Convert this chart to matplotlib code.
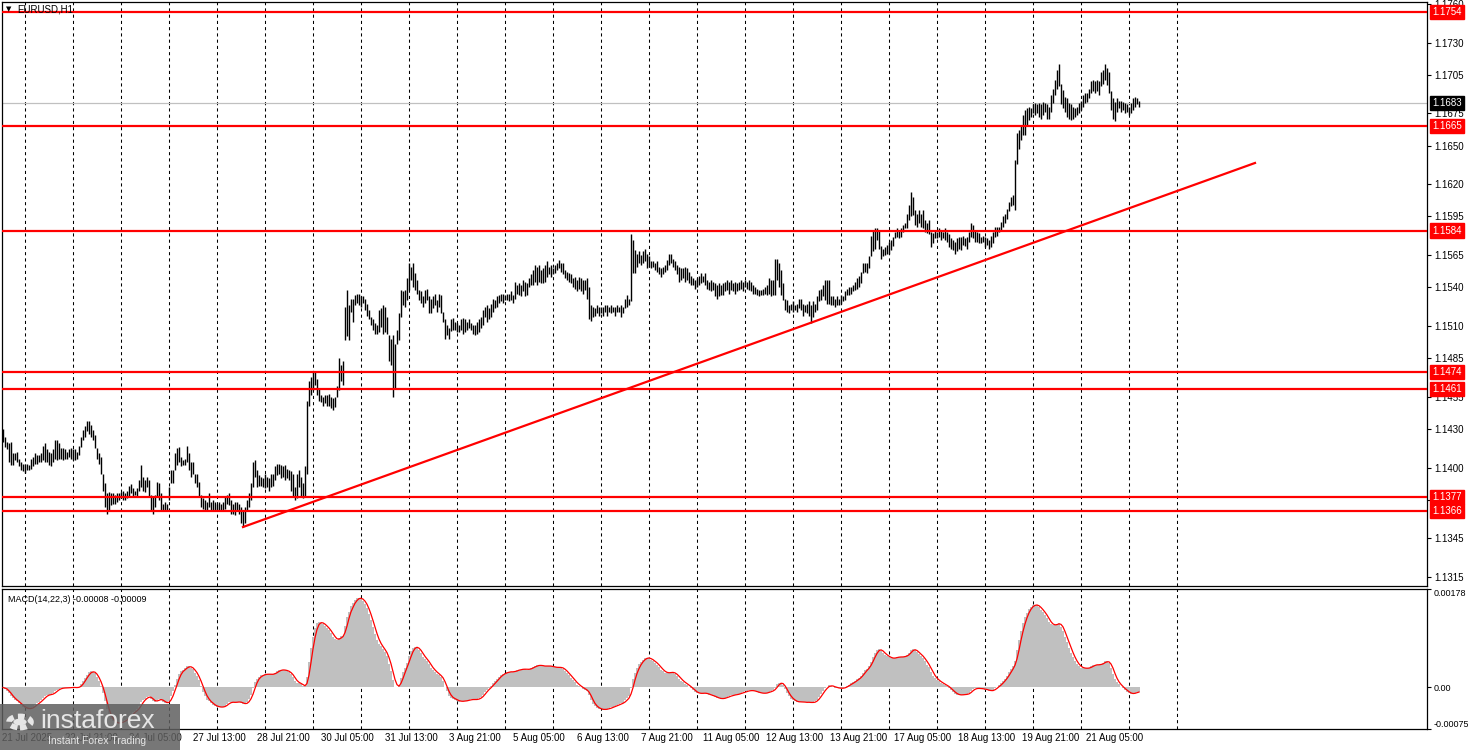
import matplotlib.pyplot as plt
import matplotlib.transforms as mtransforms
import matplotlib.patches as patches
import numpy as np
import pandas as pd

symbol_title = "EURUSD,H1"

# EURUSD H1 bars, highs / lows in pips (price * 10000), one value per hour
high_pips = [
    11430, 11424, 11420, 11419, 11420, 11411, 11411, 11412, 11407, 11404, 11403, 11403, 11403, 11402, 11407, 11408, 11411, 11410, 11410, 11411, 11417, 11419, 11414, 11412,
    11411, 11414, 11421, 11421, 11419, 11415, 11415, 11414, 11412, 11414, 11415, 11414, 11414, 11412, 11417, 11424, 11429, 11432, 11436, 11436, 11433, 11429, 11425, 11415,
    11411, 11408, 11395, 11388, 11380, 11381, 11380, 11380, 11379, 11380, 11380, 11381, 11382, 11380, 11382, 11386, 11387, 11384, 11382, 11384, 11390, 11402, 11393, 11390,
    11393, 11390, 11379, 11377, 11379, 11389, 11388, 11380, 11372, 11373, 11372, 11385, 11398, 11398, 11411, 11415, 11416, 11408, 11406, 11407, 11417, 11411, 11404, 11404,
    11395, 11395, 11389, 11379, 11376, 11375, 11373, 11380, 11373, 11375, 11373, 11372, 11373, 11372, 11373, 11377, 11379, 11380, 11375, 11372, 11373, 11373, 11372, 11369,
    11366, 11369, 11375, 11380, 11388, 11404, 11406, 11398, 11394, 11393, 11392, 11395, 11393, 11392, 11395, 11395, 11401, 11403, 11403, 11402, 11401, 11402, 11399, 11398,
    11397, 11395, 11385, 11395, 11398, 11393, 11388, 11401, 11452, 11467, 11470, 11474, 11474, 11469, 11461, 11456, 11455, 11456, 11456, 11457, 11455, 11454, 11455, 11463,
    11485, 11480, 11483, 11525, 11538, 11526, 11531, 11531, 11534, 11535, 11535, 11533, 11533, 11531, 11527, 11522, 11517, 11515, 11512, 11511, 11522, 11524, 11526, 11525,
    11517, 11503, 11500, 11503, 11496, 11507, 11520, 11538, 11537, 11538, 11547, 11559, 11556, 11559, 11551, 11546, 11538, 11537, 11533, 11538, 11539, 11533, 11531, 11533,
    11535, 11530, 11535, 11534, 11521, 11515, 11511, 11508, 11515, 11516, 11513, 11512, 11511, 11515, 11516, 11515, 11513, 11515, 11512, 11511, 11511, 11513, 11515, 11517,
    11522, 11525, 11526, 11524, 11527, 11531, 11530, 11533, 11534, 11535, 11535, 11534, 11535, 11535, 11537, 11534, 11544, 11542, 11543, 11542, 11546, 11544, 11543, 11547,
    11550, 11553, 11557, 11556, 11557, 11553, 11555, 11557, 11560, 11556, 11557, 11555, 11557, 11559, 11561, 11559, 11559, 11553, 11552, 11551, 11550, 11547, 11548, 11546,
    11548, 11547, 11546, 11546, 11547, 11540, 11526, 11525, 11524, 11526, 11525, 11525, 11525, 11526, 11526, 11525, 11526, 11525, 11525, 11526, 11525, 11526, 11525, 11531,
    11534, 11531, 11581, 11577, 11569, 11566, 11568, 11565, 11568, 11570, 11566, 11564, 11560, 11560, 11559, 11560, 11556, 11555, 11556, 11557, 11561, 11566, 11566, 11562,
    11560, 11557, 11556, 11555, 11555, 11556, 11555, 11552, 11549, 11547, 11546, 11547, 11549, 11551, 11549, 11551, 11546, 11544, 11546, 11544, 11543, 11542, 11543, 11542,
    11543, 11544, 11546, 11544, 11546, 11543, 11544, 11543, 11544, 11546, 11544, 11546, 11544, 11546, 11544, 11542, 11540, 11539, 11538, 11538, 11539, 11540, 11542, 11547,
    11546, 11546, 11562, 11562, 11559, 11553, 11543, 11531, 11530, 11526, 11527, 11529, 11526, 11527, 11531, 11531, 11527, 11526, 11527, 11529, 11526, 11529, 11527, 11533,
    11538, 11539, 11542, 11546, 11546, 11546, 11533, 11533, 11531, 11533, 11531, 11534, 11533, 11537, 11539, 11540, 11540, 11542, 11544, 11547, 11549, 11552, 11559, 11559,
    11559, 11564, 11580, 11584, 11586, 11586, 11584, 11572, 11570, 11571, 11573, 11575, 11577, 11579, 11583, 11586, 11584, 11586, 11588, 11590, 11597, 11604, 11614, 11610,
    11600, 11597, 11600, 11597, 11600, 11592, 11590, 11592, 11583, 11582, 11584, 11583, 11586, 11584, 11583, 11586, 11583, 11581, 11578, 11577, 11575, 11578, 11579, 11579,
    11580, 11578, 11579, 11583, 11590, 11588, 11584, 11583, 11582, 11579, 11580, 11579, 11578, 11577, 11580, 11583, 11587, 11587, 11587, 11591, 11595, 11597, 11601, 11606,
    11610, 11612, 11639, 11660, 11662, 11666, 11674, 11678, 11679, 11680, 11679, 11682, 11683, 11682, 11683, 11682, 11684, 11683, 11682, 11680, 11689, 11694, 11701, 11709,
    11713, 11698, 11693, 11688, 11687, 11683, 11682, 11680, 11679, 11680, 11683, 11685, 11689, 11691, 11691, 11694, 11700, 11701, 11700, 11701, 11700, 11707, 11709, 11713,
    11710, 11707, 11692, 11687, 11684, 11687, 11685, 11685, 11684, 11683, 11682, 11680, 11683, 11687, 11688, 11687, 11685,
]
low_pips = [
    11420, 11416, 11414, 11404, 11402, 11402, 11406, 11404, 11401, 11398, 11397, 11396, 11398, 11398, 11399, 11401, 11403, 11403, 11404, 11404, 11406, 11404, 11404, 11402,
    11401, 11404, 11407, 11406, 11407, 11407, 11406, 11407, 11407, 11408, 11407, 11406, 11406, 11407, 11410, 11416, 11421, 11424, 11428, 11426, 11424, 11421, 11415, 11407,
    11403, 11395, 11382, 11369, 11364, 11366, 11371, 11372, 11372, 11373, 11375, 11376, 11375, 11375, 11376, 11377, 11380, 11377, 11379, 11377, 11382, 11385, 11382, 11381,
    11385, 11377, 11366, 11364, 11369, 11377, 11375, 11366, 11366, 11366, 11367, 11375, 11388, 11388, 11398, 11402, 11404, 11401, 11402, 11402, 11404, 11398, 11393, 11395,
    11388, 11385, 11377, 11369, 11368, 11367, 11366, 11369, 11366, 11366, 11366, 11366, 11367, 11366, 11367, 11368, 11372, 11371, 11364, 11364, 11363, 11366, 11364, 11357,
    11354, 11357, 11366, 11369, 11375, 11385, 11393, 11385, 11386, 11386, 11385, 11384, 11385, 11382, 11385, 11386, 11390, 11394, 11395, 11392, 11393, 11390, 11392, 11390,
    11382, 11377, 11375, 11376, 11385, 11377, 11376, 11377, 11395, 11448, 11456, 11460, 11464, 11456, 11452, 11451, 11448, 11450, 11448, 11448, 11446, 11445, 11447, 11455,
    11460, 11467, 11464, 11499, 11502, 11499, 11521, 11513, 11526, 11528, 11526, 11525, 11528, 11522, 11518, 11515, 11511, 11507, 11504, 11504, 11505, 11509, 11504, 11505,
    11504, 11483, 11480, 11455, 11462, 11496, 11499, 11517, 11526, 11525, 11530, 11538, 11546, 11540, 11538, 11535, 11530, 11528, 11525, 11528, 11530, 11520, 11520, 11524,
    11526, 11521, 11525, 11520, 11513, 11500, 11503, 11500, 11506, 11507, 11507, 11505, 11505, 11507, 11504, 11505, 11507, 11508, 11507, 11504, 11503, 11504, 11505, 11508,
    11511, 11517, 11513, 11515, 11517, 11521, 11524, 11525, 11528, 11529, 11528, 11530, 11530, 11529, 11530, 11528, 11531, 11535, 11534, 11533, 11537, 11533, 11534, 11540,
    11542, 11542, 11544, 11542, 11544, 11543, 11543, 11544, 11548, 11550, 11548, 11550, 11551, 11553, 11555, 11552, 11550, 11547, 11546, 11544, 11543, 11540, 11539, 11537,
    11539, 11537, 11535, 11538, 11531, 11515, 11514, 11517, 11518, 11520, 11518, 11520, 11518, 11521, 11518, 11521, 11520, 11521, 11518, 11521, 11521, 11517, 11520, 11524,
    11525, 11526, 11529, 11551, 11551, 11556, 11559, 11557, 11559, 11560, 11555, 11556, 11555, 11556, 11553, 11552, 11550, 11548, 11550, 11552, 11553, 11557, 11559, 11556,
    11553, 11550, 11544, 11546, 11547, 11544, 11546, 11543, 11542, 11542, 11539, 11540, 11542, 11543, 11544, 11542, 11539, 11538, 11537, 11538, 11533, 11531, 11533, 11534,
    11534, 11537, 11538, 11535, 11538, 11537, 11535, 11537, 11538, 11539, 11537, 11540, 11539, 11538, 11537, 11535, 11535, 11534, 11533, 11534, 11534, 11535, 11534, 11535,
    11533, 11534, 11534, 11546, 11540, 11534, 11530, 11522, 11521, 11520, 11522, 11521, 11522, 11521, 11524, 11522, 11518, 11521, 11520, 11518, 11512, 11517, 11521, 11522,
    11529, 11530, 11533, 11530, 11527, 11527, 11526, 11526, 11525, 11526, 11526, 11527, 11529, 11530, 11534, 11534, 11535, 11537, 11538, 11539, 11540, 11543, 11551, 11552,
    11551, 11555, 11564, 11568, 11570, 11577, 11570, 11562, 11564, 11565, 11566, 11566, 11569, 11572, 11578, 11579, 11578, 11579, 11583, 11586, 11586, 11592, 11595, 11596,
    11588, 11587, 11590, 11587, 11586, 11583, 11582, 11581, 11571, 11574, 11578, 11578, 11579, 11577, 11578, 11577, 11575, 11571, 11570, 11569, 11566, 11568, 11570, 11569,
    11573, 11572, 11570, 11575, 11579, 11578, 11575, 11575, 11574, 11574, 11575, 11571, 11573, 11570, 11571, 11574, 11579, 11580, 11583, 11584, 11587, 11590, 11593, 11599,
    11603, 11604, 11600, 11636, 11647, 11654, 11658, 11658, 11665, 11670, 11672, 11675, 11674, 11675, 11672, 11671, 11674, 11676, 11671, 11671, 11676, 11683, 11689, 11694,
    11696, 11682, 11679, 11676, 11672, 11671, 11670, 11671, 11672, 11674, 11675, 11678, 11680, 11683, 11684, 11687, 11691, 11692, 11691, 11692, 11689, 11696, 11698, 11701,
    11697, 11691, 11678, 11671, 11669, 11676, 11679, 11676, 11678, 11675, 11676, 11674, 11675, 11678, 11680, 11682, 11680,
]

levels = [1.1754, 1.1665, 1.1584, 1.1474, 1.1461, 1.1377, 1.1366]
bid_price = 1.1683
trend_bars = [120, 626]
trend_prices = [1.13538, 1.16365]

price_ticks = [1.1760, 1.1730, 1.1705, 1.1675, 1.1650, 1.1620, 1.1595, 1.1565, 1.1540,
               1.1510, 1.1485, 1.1455, 1.1430, 1.1400, 1.1375, 1.1345, 1.1315]
time_labels = ["21 Jul 2025", "22 Jul 21:00", "24 Jul 05:00", "27 Jul 13:00", "28 Jul 21:00",
               "30 Jul 05:00", "31 Jul 13:00", "3 Aug 21:00", "5 Aug 05:00", "6 Aug 13:00",
               "7 Aug 21:00", "11 Aug 05:00", "12 Aug 13:00", "13 Aug 21:00", "17 Aug 05:00",
               "18 Aug 13:00", "19 Aug 21:00", "21 Aug 05:00"]
time_label_bars = [12, 44, 76, 108, 140, 172, 204, 236, 268, 300, 332, 364, 396, 428,
                   460, 492, 524, 556]
day_grid_bars = [11, 35, 59, 83, 107, 131, 155, 179, 203, 227, 251, 275, 299, 323, 347,
                 371, 395, 419, 443, 467, 491, 515, 539, 563, 587]
macd_fast, macd_slow, macd_signal = 14, 22, 3
macd_ticks = [0.00178, 0.0, -0.00075]
macd_tick_labels = ["0.00178", "0.00", "-0.00075"]
macd_title = "MACD(14,22,3) -0.00008 -0.00009"

plt.rcParams['font.family'] = ['Liberation Sans', 'DejaVu Sans']

W, H = 1468, 750
fig = plt.figure(figsize=(W / 100, H / 100), dpi=100)
fig.patch.set_facecolor('white')


def px_rect(x0, y0, x1, y1):
    # pixel box (y down) -> figure fraction rect
    return [x0 / W, 1 - y1 / H, (x1 - x0) / W, (y1 - y0) / H]


ax = fig.add_axes(px_rect(2, 2, 1427, 586))
ax2 = fig.add_axes(px_rect(2, 589, 1427, 729), sharex=ax)

hi = np.array(high_pips) / 10000.0
lo = np.array(low_pips) / 10000.0
idx = np.arange(len(hi))

# --- price window ---
for b in day_grid_bars:
    ax.axvline(b, color='black', lw=0.75, ls=(0, (3, 3)), zorder=1)
    ax2.axvline(b, color='black', lw=0.75, ls=(0, (3, 3)), zorder=1)

ax.axhline(bid_price, color='#c0c0c0', lw=0.9, zorder=2)
ax.vlines(idx, lo, hi, color='black', lw=1.0, zorder=3)
for lv in levels:
    ax.axhline(lv, color='red', lw=1.6, zorder=4)
ax.plot(trend_bars, trend_prices, color='red', lw=1.6, zorder=4)

ax.set_xlim(-0.5, 712)
ax.set_ylim(1.13080, 1.17615)
ax.yaxis.tick_right()
ax.set_yticks(price_ticks)
ax.set_yticklabels([f"{t:.4f}" for t in price_ticks])
ax.tick_params(axis='y', direction='out', length=3, width=0.8, labelsize=7, pad=2)
ax.tick_params(axis='x', bottom=False, labelbottom=False)
for s in ax.spines.values():
    s.set_linewidth(0.9)

tag_tr = mtransforms.blended_transform_factory(ax.transAxes, ax.transData)
for lv in levels:
    ax.text(1.0035, lv, f"{lv:.4f}", transform=tag_tr, ha='left', va='center',
            fontsize=7, color='white', clip_on=False, zorder=6,
            bbox=dict(boxstyle='square,pad=0.22', fc='red', ec='red'))
ax.text(1.0035, bid_price, f"{bid_price:.4f}", transform=tag_tr, ha='left', va='center',
        fontsize=7, color='white', clip_on=False, zorder=6,
        bbox=dict(boxstyle='square,pad=0.22', fc='black', ec='black'))

ax.text(0.003, 0.993, "\u25BC", transform=ax.transAxes, ha='left', va='top',
        fontsize=5, color='black', family='DejaVu Sans', zorder=5)
ax.text(0.0105, 0.995, symbol_title, transform=ax.transAxes,
        ha='left', va='top', fontsize=7, color='black', zorder=5)

# --- MACD window ---
mid = pd.Series((hi + lo) / 2.0)
macd = (mid.ewm(span=macd_fast, adjust=False).mean()
        - mid.ewm(span=macd_slow, adjust=False).mean())
signal = macd.rolling(macd_signal, min_periods=1).mean()

ax2.bar(idx, macd.values, width=1.0, color='#c0c0c0', lw=0, zorder=2)
ax2.plot(idx, signal.values, color='red', lw=0.9, zorder=3)
ax2.set_ylim(-0.00075, 0.00178)
ax2.yaxis.tick_right()
ax2.set_yticks(macd_ticks)
ax2.set_yticklabels(macd_tick_labels)
ax2.tick_params(axis='y', direction='out', length=3, width=0.8, labelsize=6.5, pad=1.5)
lbls = ax2.get_yticklabels()
lbls[0].set_va('top')
lbls[2].set_va('bottom')
ax2.set_xticks(time_label_bars)
ax2.set_xticklabels(time_labels)
ax2.tick_params(axis='x', length=0, labelsize=7, pad=3)
for s in ax2.spines.values():
    s.set_linewidth(0.9)
ax2.text(0.004, 0.96, macd_title, transform=ax2.transAxes, ha='left', va='top',
         fontsize=6.5, color='black', zorder=5)

# --- watermark ---
fig.patches.append(patches.Rectangle((0, 0), 180 / W, 46 / H, transform=fig.transFigure,
                                     fc='#5f5f5f', ec='none', alpha=0.85, zorder=10))
gear = patches.Circle((20 / W, 1 - 722 / H), 0.0075, transform=fig.transFigure,
                      fc='none', ec='#e6e6e6', lw=4, ls=(0, (1.2, 0.8)), zorder=11)
fig.patches.append(gear)
fig.patches.append(patches.Circle((20 / W, 1 - 722 / H), 0.0045, transform=fig.transFigure,
                                  fc='#e6e6e6', ec='none', zorder=11))
fig.text(40 / W, 1 - 721 / H, "instaforex", ha='left', va='center', fontsize=19,
         color='#e6e6e6', zorder=12)
fig.text(48 / W, 1 - 741 / H, "Instant Forex Trading", ha='left', va='center',
         fontsize=7.5, color='#e6e6e6', zorder=12)

fig.savefig('out.png', dpi=100, facecolor='white')
